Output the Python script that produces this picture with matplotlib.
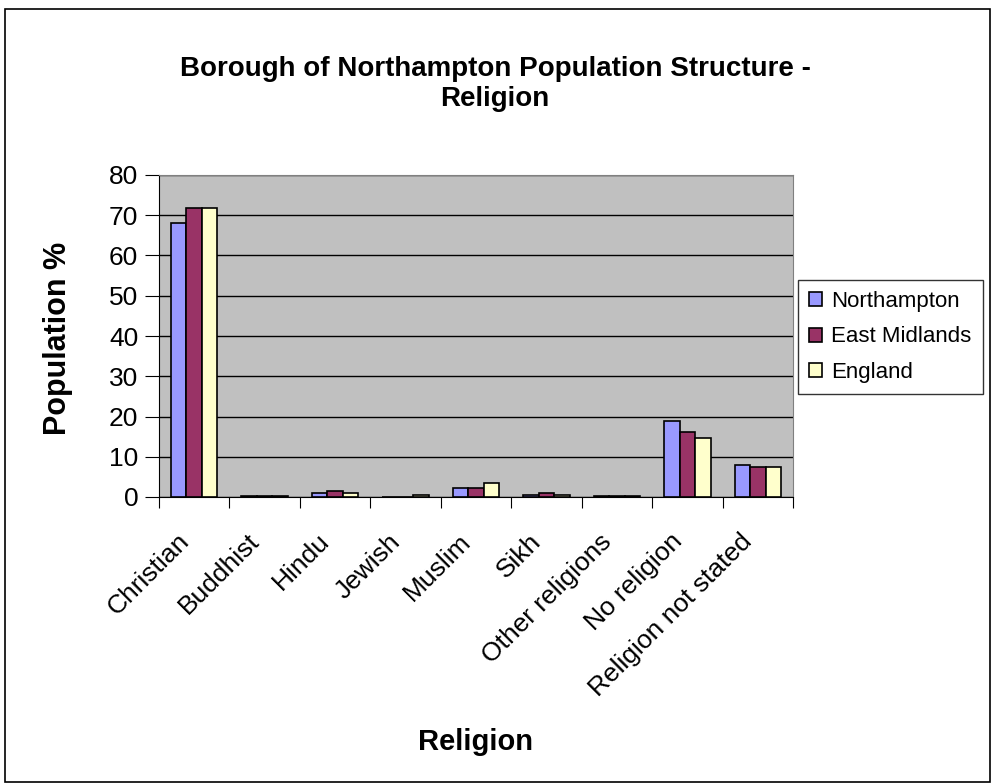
import numpy as np
import matplotlib.pyplot as plt
from matplotlib.patches import Rectangle

plt.rcParams['font.family'] = ['Liberation Sans', 'DejaVu Sans']

# Values (%)
religions = ["Christian", "Buddhist", "Hindu", "Jewish", "Muslim", "Sikh",
             "Other religions", "No religion", "Religion not stated"]
northampton = [68.1, 0.3, 1.1, 0.1, 2.2, 0.5, 0.3, 19.0, 8.0]
east_midlands = [71.7, 0.2, 1.6, 0.1, 2.2, 1.1, 0.3, 16.1, 7.5]
england = [71.7, 0.3, 1.1, 0.5, 3.4, 0.6, 0.3, 14.7, 7.5]
series_names = ["Northampton", "East Midlands", "England"]
colors = ["#9999ff", "#993366", "#ffffcc"]

fig = plt.figure(figsize=(9.92, 7.83), dpi=100)
# outer chart border
fig.patches.append(Rectangle((5 / 992, 1 / 783), 985 / 992, 773 / 783,
                             transform=fig.transFigure, fill=False,
                             edgecolor='black', linewidth=1.2))

ax = fig.add_axes([159 / 992, 1 - 497 / 783, 634 / 992, 322 / 783])
ax.set_facecolor('#c0c0c0')

x = np.arange(len(religions))
w = 0.22
for i, (vals, name, c) in enumerate(zip([northampton, east_midlands, england],
                                        series_names, colors)):
    ax.bar(x + (i - 1) * w, vals, w, color=c, edgecolor='black',
           linewidth=1.2, label=name, zorder=3)

ax.set_xlim(-0.5, len(religions) - 0.5)
ax.set_ylim(0, 80)
ax.set_yticks(range(0, 81, 10))
ax.yaxis.grid(True, color='black', linewidth=1, zorder=1)
ax.tick_params(axis='y', labelsize=19, length=10, direction='out', pad=5)

ax.set_xticks(np.arange(len(religions) + 1) - 0.5)
ax.set_xticklabels([])
ax.tick_params(axis='x', length=8, direction='out')
for xi, lab in zip(x, religions):
    ax.text(xi - 0.25, -8, lab, rotation=45, ha='right', va='top',
            rotation_mode='anchor', fontsize=19, transform=ax.transData)

for s in ['top', 'right']:
    ax.spines[s].set_color('#808080')
for s in ['left', 'bottom']:
    ax.spines[s].set_color('black')

fig.text(58 / 992, 1 - 338 / 783, "Population %", fontsize=22, fontweight='bold',
         rotation=90, ha='center', va='center')
fig.text(476 / 992, 1 - 742 / 783, "Religion", fontsize=21, fontweight='bold',
         ha='center', va='center')
fig.text(495 / 992, 1 - 84 / 783, "Borough of Northampton Population Structure -\nReligion",
         fontsize=20, fontweight='bold', ha='center', va='center', linespacing=1.25)

leg = ax.legend(loc='center left', bbox_to_anchor=(798 / 992, 1 - 337 / 783),
                bbox_transform=fig.transFigure, fontsize=16, frameon=True,
                fancybox=False, edgecolor='black', handlelength=0.6,
                handleheight=0.6, handletextpad=0.4, labelspacing=0.65,
                borderpad=0.5, borderaxespad=0)
leg.get_frame().set_linewidth(1)

fig.savefig("out.png", dpi=100)
